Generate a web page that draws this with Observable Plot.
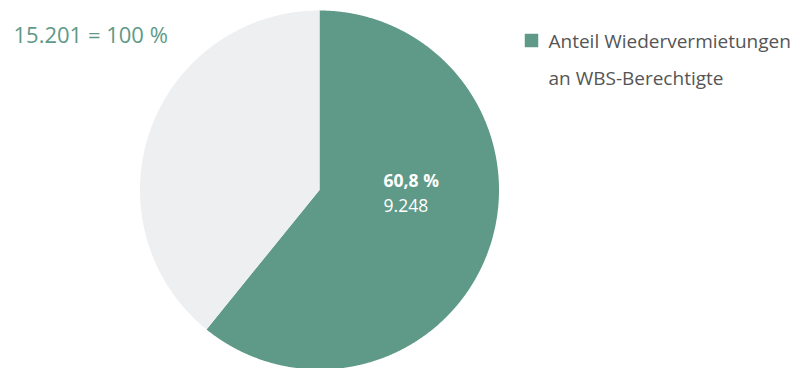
<!DOCTYPE html>
<html>
<head>
<meta charset="utf-8">
<script src="https://cdn.jsdelivr.net/npm/d3@7"></script>
<script src="https://cdn.jsdelivr.net/npm/@observablehq/plot@0.6"></script>
<style>
  html, body { margin: 0; padding: 0; background: #fff; }
  #chart { width: 794px; height: 368px; overflow: hidden; }
</style>
</head>
<body>
<div id="chart"></div>
<script>
// ---- data ----
const categories = ["Wiedervermietungen an WBS-Berechtigte", "Sonstige Wiedervermietungen"];
const values = [9248, 5953];
const percentLabels = ["60,8 %", ""];
const countLabels = ["9.248", ""];
const totalLabel = "15.201 = 100 %";
const legendLines = ["Anteil Wiedervermietungen", "an WBS-Berechtigte"];
const colors = ["#5e9a87", "#eeeff1"];

// ---- build slices ----
const arcs = d3.pie().sort(null).startAngle(0).endAngle(2 * Math.PI)(values);
const slicePoints = [];
arcs.forEach((a, i) => {
  const n = Math.max(2, Math.ceil((a.endAngle - a.startAngle) / (Math.PI / 720)));
  slicePoints.push({cat: categories[i], px: 0, py: 0});
  for (let k = 0; k <= n; k++) {
    const t = a.startAngle + (a.endAngle - a.startAngle) * k / n;
    slicePoints.push({cat: categories[i], px: Math.sin(t), py: Math.cos(t)});
  }
});
const labelData = arcs.map((a, i) => {
  const m = (a.startAngle + a.endAngle) / 2;
  return {cat: categories[i], px: 0.5 * Math.sin(m), py: 0.5 * Math.cos(m), pct: percentLabels[i], cnt: countLabels[i]};
}).filter(d => d.pct);

const font = "'Open Sans', 'Noto Sans', sans-serif";

const plot = Plot.plot({
  width: 794,
  height: 368,
  margin: 0,
  style: {fontFamily: font, background: "transparent", overflow: "visible"},
  x: {type: "linear", domain: [-1, 1], range: [139.5, 498.5], axis: null},
  y: {type: "linear", domain: [-1, 1], range: [369, 10], axis: null},
  color: {domain: categories, range: colors},
  marks: [
    ...categories.map(c => Plot.line(slicePoints.filter(d => d.cat === c), {
      x: "px", y: "py", fill: colors[categories.indexOf(c)], stroke: "none", curve: "linear-closed"
    })),
    Plot.text(labelData, {x: "px", y: "py", text: "pct", textAnchor: "start", lineAnchor: "top",
      dx: -20.5, dy: -45.5, fill: "#fff", fontSize: 17.5, fontWeight: "bold"}),
    Plot.text(labelData, {x: "px", y: "py", text: "cnt", textAnchor: "start", lineAnchor: "top",
      dx: -20.5, dy: -20.5, fill: "#fff", fontSize: 17.5}),
    Plot.text([totalLabel], {text: d => d, frameAnchor: "top-left", textAnchor: "start", lineAnchor: "top",
      dx: 13, dy: 27, fill: colors[0], fontSize: 22}),
    Plot.dot([categories[0]], {frameAnchor: "top-left", dx: 531, dy: 40, symbol: "square", r: 7.6,
      fill: colors[0], stroke: "none"}),
    ...legendLines.map((line, i) => Plot.text([line], {text: d => d, frameAnchor: "top-left", textAnchor: "start",
      lineAnchor: "top", dx: 548, dy: 34 + i * 37, fill: "#555555", fontSize: 19}))
  ]
});
document.getElementById("chart").appendChild(plot);
</script>
</body>
</html>
